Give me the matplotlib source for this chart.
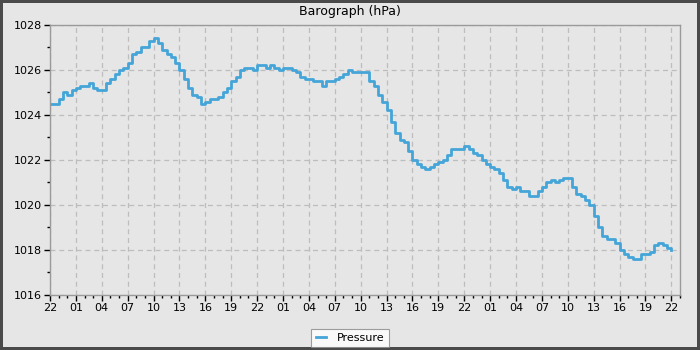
#!/usr/bin/env python3

"""
Barograph: three days of station pressure, half-hourly readings.
"""

import numpy as np
import matplotlib.pyplot as plt
from matplotlib.ticker import MultipleLocator, FuncFormatter


START_HOUR = 22          # clock hour of the first reading
STEP_HOURS = 0.5         # spacing between readings

PRESSURE = [
    1024.5, 1024.5, 1024.7, 1025.0, 1024.9, 1025.1, 1025.2, 1025.3, 1025.3, 1025.4,
    1025.2, 1025.1, 1025.1, 1025.4, 1025.6, 1025.8, 1026.0, 1026.1, 1026.3, 1026.7,
    1026.8, 1027.0, 1027.0, 1027.3, 1027.4, 1027.2, 1026.9, 1026.7, 1026.6, 1026.3,
    1026.0, 1025.6, 1025.2, 1024.9, 1024.8, 1024.5, 1024.6, 1024.7, 1024.7, 1024.8,
    1025.0, 1025.2, 1025.5, 1025.7, 1026.0, 1026.1, 1026.1, 1026.0, 1026.2, 1026.2,
    1026.1, 1026.2, 1026.1, 1026.0, 1026.1, 1026.1, 1026.0, 1025.9, 1025.7, 1025.6,
    1025.6, 1025.5, 1025.5, 1025.3, 1025.5, 1025.5, 1025.6, 1025.7, 1025.8, 1026.0,
    1025.9, 1025.9, 1025.9, 1025.9, 1025.5, 1025.3, 1024.9, 1024.6, 1024.2, 1023.7,
    1023.2, 1022.9, 1022.8, 1022.4, 1022.0, 1021.8, 1021.7, 1021.6, 1021.7, 1021.8,
    1021.9, 1022.0, 1022.2, 1022.5, 1022.5, 1022.5, 1022.6, 1022.5, 1022.3, 1022.2,
    1022.0, 1021.8, 1021.7, 1021.6, 1021.4, 1021.1, 1020.8, 1020.7, 1020.8, 1020.6,
    1020.6, 1020.4, 1020.4, 1020.6, 1020.8, 1021.0, 1021.1, 1021.0, 1021.1, 1021.2,
    1021.2, 1020.8, 1020.5, 1020.4, 1020.2, 1020.0, 1019.5, 1019.0, 1018.6, 1018.5,
    1018.5, 1018.3, 1018.0, 1017.8, 1017.7, 1017.6, 1017.6, 1017.8, 1017.8, 1017.9,
    1018.2, 1018.3, 1018.2, 1018.1, 1018.0,
]

Y_MIN, Y_MAX = 1016, 1028
X_SPAN_HOURS = 73

BG = "#e6e6e6"
LINE_COLOR = "#45a5d8"
GRID_COLOR = "#bdbdbd"
SPINE_COLOR = "#9a9a9a"


def hour_label(h, _pos):
    return f"{int(round(START_HOUR + h)) % 24:02d}"


def main() -> None:
    hours = np.arange(len(PRESSURE)) * STEP_HOURS

    fig = plt.figure(figsize=(7, 3.5), dpi=100)
    fig.patch.set_facecolor(BG)
    fig.patch.set_edgecolor("#4a4a4a")
    fig.patch.set_linewidth(3)

    ax = fig.add_axes([50 / 700, 55 / 350, 630 / 700, 270 / 350])
    ax.set_facecolor(BG)

    line, = ax.step(hours, PRESSURE, where="post", color=LINE_COLOR, lw=2, label="Pressure")

    ax.set_xlim(0, X_SPAN_HOURS)
    ax.set_ylim(Y_MIN, Y_MAX)

    ax.xaxis.set_major_locator(MultipleLocator(3))
    ax.xaxis.set_minor_locator(MultipleLocator(1))
    ax.xaxis.set_major_formatter(FuncFormatter(hour_label))
    ax.yaxis.set_major_locator(MultipleLocator(2))
    ax.yaxis.set_minor_locator(MultipleLocator(1))

    ax.tick_params(which="major", length=4, width=1, color="black", labelsize=8, pad=2)
    ax.tick_params(which="minor", length=2.5, width=1, color="black")

    ax.grid(True, which="major", color=GRID_COLOR, linestyle=(0, (4, 3)), linewidth=0.9)
    ax.set_axisbelow(True)

    for spine in ax.spines.values():
        spine.set_color(SPINE_COLOR)
        spine.set_linewidth(1)

    fig.text(0.5, 1 - 12 / 350, "Barograph (hPa)", ha="center", va="center", fontsize=9)

    leg = fig.legend(
        handles=[line],
        loc="center",
        bbox_to_anchor=(350 / 700, 1 - 338 / 350),
        fontsize=8,
        frameon=True,
        fancybox=False,
        handlelength=0.9,
        handletextpad=1.0,
        borderpad=0.4,
        borderaxespad=0,
    )
    leg.get_frame().set_facecolor("white")
    leg.get_frame().set_edgecolor("#888888")
    leg.get_frame().set_linewidth(0.8)

    fig.savefig("out.png", dpi=100, facecolor=fig.get_facecolor(), edgecolor=fig.get_edgecolor())
    plt.close(fig)


if __name__ == "__main__":
    main()
